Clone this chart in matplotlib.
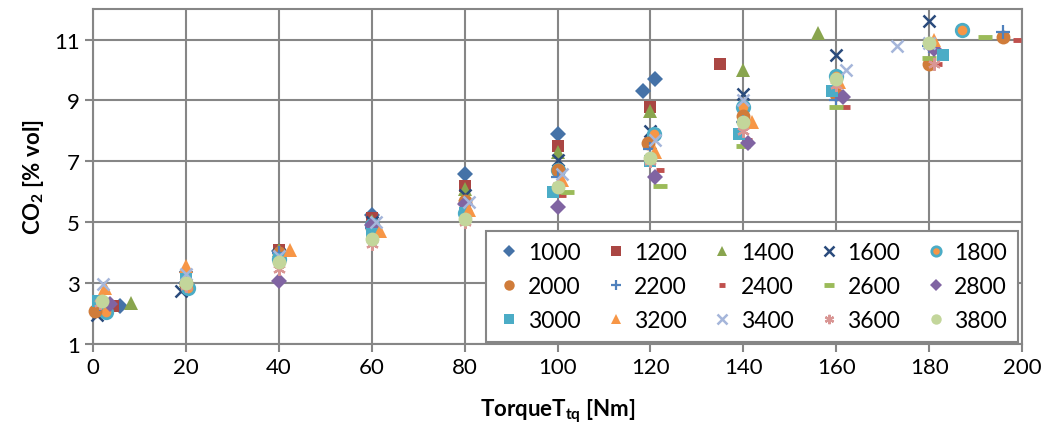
import matplotlib
matplotlib.use('Agg')
import matplotlib.pyplot as plt

plt.rcParams['font.family'] = ['Lato', 'DejaVu Sans']
plt.rcParams['mathtext.fontset'] = 'custom'
plt.rcParams['mathtext.rm'] = 'Lato'
plt.rcParams['mathtext.bf'] = 'Lato:bold'

# Data (torque [Nm], CO2 [% vol]) per engine speed
speeds = ['1000', '1200', '1400', '1600', '1800', '2000', '2200', '2400',
          '2600', '2800', '3000', '3200', '3400', '3600', '3800']

t1000 = [5.8, 20, 40, 60, 80, 100, 118.5, 121]
c1000 = [2.25, 3.0, 4.05, 5.25, 6.6, 7.9, 9.3, 9.7]
t1200 = [4.3, 20, 40, 60, 80, 100, 120, 135]
c1200 = [2.25, 3.0, 4.1, 5.15, 6.2, 7.5, 8.8, 10.2]
t1400 = [8.2, 20, 40, 60, 80, 100, 120, 140, 156]
c1400 = [2.35, 3.1, 4.1, 5.05, 6.1, 7.3, 8.65, 10.0, 11.2]
t1600 = [0.9, 19, 40, 60, 80, 100, 120, 140, 160, 180]
c1600 = [1.95, 2.75, 3.95, 5.0, 5.9, 7.05, 8.0, 9.2, 10.5, 11.6]
t1800 = [2.8, 20.5, 40, 60, 80, 100, 120.8, 140, 160, 187]
c1800 = [2.05, 2.85, 3.8, 4.9, 5.3, 6.7, 7.9, 8.8, 9.8, 11.3]
t2000 = [0.4, 20, 40, 60, 80, 100, 119.5, 140, 160, 180, 196]
c2000 = [2.1, 3.0, 4.0, 4.8, 5.7, 6.7, 7.6, 8.5, 9.2, 10.2, 11.1]
t2200 = [1.5, 20, 40, 60, 80, 100, 120, 140, 160, 180, 196]
c2200 = [2.3, 3.35, 4.0, 4.8, 5.6, 6.5, 7.4, 8.3, 9.0, 10.8, 11.25]
t2400 = [101, 122, 141, 162, 182, 199]
c2400 = [5.9, 6.7, 7.7, 8.8, 10.2, 11.0]
t2600 = [102, 122, 140, 160, 180, 192]
c2600 = [6.0, 6.2, 7.5, 8.8, 10.4, 11.1]
t2800 = [3.6, 40, 60, 80, 100, 121, 141, 161.5, 181]
c2800 = [2.3, 3.07, 4.9, 5.6, 5.5, 6.5, 7.6, 9.1, 10.7]
t3000 = [1, 20, 40, 60, 80, 99, 120, 139, 159, 183]
c3000 = [2.4, 3.2, 3.8, 4.6, 5.3, 6.0, 7.0, 7.9, 9.3, 10.5]
t3200 = [2.5, 20, 42.4, 61.8, 81, 101, 121, 141.8, 160.5, 181]
c3200 = [2.85, 3.55, 4.1, 4.7, 5.4, 6.4, 7.3, 8.3, 9.6, 11.0]
t3400 = [2.2, 20, 40, 61, 81, 101, 121, 140, 162, 173, 180]
c3400 = [2.97, 3.3, 3.9, 5.0, 5.65, 6.6, 7.7, 9.0, 10.0, 10.8, 10.9]
t3600 = [1.5, 20, 40, 60, 80, 100, 120, 140, 160, 181]
c3600 = [2.35, 2.9, 3.45, 4.3, 5.0, 6.2, 7.0, 8.0, 9.5, 10.2]
t3800 = [2, 20, 40, 60, 80, 100, 120, 140, 160, 180]
c3800 = [2.4, 3.0, 3.7, 4.45, 5.1, 6.15, 7.1, 8.3, 9.7, 10.9]

torques = [t1000, t1200, t1400, t1600, t1800, t2000, t2200, t2400,
           t2600, t2800, t3000, t3200, t3400, t3600, t3800]
co2s = [c1000, c1200, c1400, c1600, c1800, c2000, c2200, c2400,
        c2600, c2800, c3000, c3200, c3400, c3600, c3800]

# marker, size, face colour, edge colour, edge width
styles = [
    ('D', 8, '#4572A7', '#4572A7', 0),
    ('s', 9, '#AA4643', '#AA4643', 0),
    ('^', 10, '#89A54E', '#89A54E', 0),
    ('x', 9, '#2A4B7C', '#2A4B7C', 1.8),
    ('o', 9, '#F79646', '#4BACC6', 2),
    ('o', 10, '#D07C3A', '#D07C3A', 0),
    ('+', 10, '#4F81BD', '#4F81BD', 1.6),
    ('_', 6, '#C0504D', '#C0504D', 3.5),
    ('_', 10, '#9BBB59', '#9BBB59', 3.5),
    ('D', 8, '#8064A2', '#8064A2', 0),
    ('s', 9, '#4BACC6', '#4BACC6', 0),
    ('^', 10, '#F79646', '#F79646', 0),
    ('x', 9, '#A5B6DA', '#A5B6DA', 1.8),
    ((6, 2, 0), 9, '#D99694', '#D99694', 1.6),
    ('o', 10, '#C3D69B', '#C3D69B', 0),
]

fig = plt.figure(figsize=(10.47, 4.39), dpi=100)
ax = fig.add_axes([0.0888, 0.214, 0.8874, 0.763])

handles = []
for name, t, c, (m, ms, fc, ec, ew) in zip(speeds, torques, co2s, styles):
    h, = ax.plot(t, c, linestyle='none', marker=m, markersize=ms,
                 markerfacecolor=fc, markeredgecolor=ec, markeredgewidth=ew,
                 label=name, zorder=3, clip_on=False)
    handles.append(h)

ax.set_xlim(0, 200)
ax.set_ylim(1, 12)
ax.set_xticks(range(0, 201, 20))
ax.set_yticks([1, 3, 5, 7, 9, 11])
ax.grid(True, color='#868686', linewidth=1.5, zorder=0)
ax.set_axisbelow(True)
for s in ax.spines.values():
    s.set_color('#868686')
    s.set_linewidth(1.5)
ax.tick_params(axis='both', colors='#868686', labelcolor='black',
               labelsize=16, width=1.5, length=6)

ax.set_xlabel(r'TorqueT$_\mathbf{tq}$ [Nm]', fontsize=16, fontweight='bold',
              labelpad=14)
ax.set_ylabel(r'CO$_\mathbf{2}$ [% vol]', fontsize=16, fontweight='bold',
              labelpad=6)

# Excel fills legend rows first
order = [0, 5, 10, 1, 6, 11, 2, 7, 12, 3, 8, 13, 4, 9, 14]
leg = ax.legend([handles[i] for i in order], [speeds[i] for i in order],
                ncol=5, loc='lower right', bbox_to_anchor=(0.996, 0.006),
                borderaxespad=0, fontsize=16.5, frameon=True, fancybox=False,
                edgecolor='#868686', framealpha=1, handletextpad=0.3,
                columnspacing=1.05, handlelength=1.0, markerscale=0.75,
                borderpad=0.5, labelspacing=0.55)
leg.get_frame().set_linewidth(1.5)
leg.set_zorder(5)

fig.savefig('out.png', dpi=100)
